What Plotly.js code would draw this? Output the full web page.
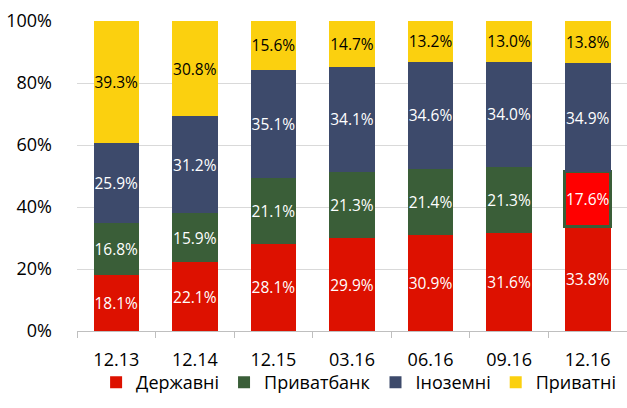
<!DOCTYPE html>
<html>
<head>
<meta charset="utf-8">
<script src="https://cdn.plot.ly/plotly-3.0.1.min.js"></script>
<style>
  html, body { margin: 0; padding: 0; background: #fff; }
  #chart { width: 627px; height: 408px; }
</style>
</head>
<body>
<div id="chart"></div>
<script>
  const periods = ["12.13", "12.14", "12.15", "03.16", "06.16", "09.16", "12.16"];
  const state = [18.1, 22.1, 28.1, 29.9, 30.9, 31.6, 33.8];
  const privatbank = [16.8, 15.9, 21.1, 21.3, 21.4, 21.3, 17.6];
  const foreign = [25.9, 31.2, 35.1, 34.1, 34.6, 34.0, 34.9];
  const privateBanks = [39.3, 30.8, 15.6, 14.7, 13.2, 13.0, 13.8];

  const font = "Open Sans, Noto Sans, sans-serif";

  function makeTrace(name, values, color, textColor) {
    return {
      type: "bar",
      name: name,
      x: periods,
      y: values.map((v) => v / 100),
      text: values.map((v) => v.toFixed(1) + "%"),
      textposition: "inside",
      insidetextanchor: "middle",
      textangle: 0,
      constraintext: "none",
      textfont: { family: font, size: 15.5, color: textColor },
      marker: { color: color },
      hoverinfo: "skip",
    };
  }

  const traces = [
    makeTrace("Державні", state, "#dd1100", "#ffffff"),
    makeTrace("Приватбанк", privatbank, "#3a5e38", "#ffffff"),
    makeTrace("Іноземні", foreign, "#3d4a6b", "#ffffff"),
    makeTrace("Приватні", privateBanks, "#fbd00f", "#000000"),
  ];

  // last Приватбанк segment (nationalised) is highlighted red with green frame
  const pb = traces[1];
  pb.marker = {
    color: periods.map((_, i) => (i === periods.length - 1 ? "#ff0000" : "#3a5e38")),
    line: {
      color: "#3a5e38",
      width: periods.map((_, i) => (i === periods.length - 1 ? 3 : 0)),
    },
  };

  const layout = {
    width: 627,
    height: 408,
    margin: { l: 77, r: 0, t: 21, b: 77 },
    paper_bgcolor: "#ffffff",
    plot_bgcolor: "#ffffff",
    barmode: "stack",
    bargap: 0.42,
    font: { family: font, size: 18, color: "#000000" },
    xaxis: {
      type: "category",
      range: [-0.5, 6.5],
      showline: true,
      linecolor: "#bfbfbf",
      linewidth: 1,
      ticks: "outside",
      tickson: "boundaries",
      ticklen: 6,
      tickcolor: "#bfbfbf",
      ticklabelstandoff: 12,
      tickfont: { family: font, size: 18 },
      showgrid: false,
      fixedrange: true,
    },
    yaxis: {
      range: [0, 1],
      tickvals: [0, 0.2, 0.4, 0.6, 0.8, 1],
      tickformat: ".0%",
      showgrid: true,
      gridcolor: "#d9d9d9",
      gridwidth: 1,
      zeroline: false,
      showline: false,
      ticks: "",
      ticklabelstandoff: 24,
      tickfont: { family: font, size: 18 },
      fixedrange: true,
    },
    showlegend: true,
    legend: {
      orientation: "h",
      x: 0.512,
      xanchor: "center",
      y: -0.107,
      yanchor: "top",
      bgcolor: "rgba(0,0,0,0)",
      font: { family: font, size: 18 },
      traceorder: "normal",
    },
  };

  Plotly.newPlot("chart", traces, layout, { displayModeBar: false, staticPlot: true });
</script>
</body>
</html>
